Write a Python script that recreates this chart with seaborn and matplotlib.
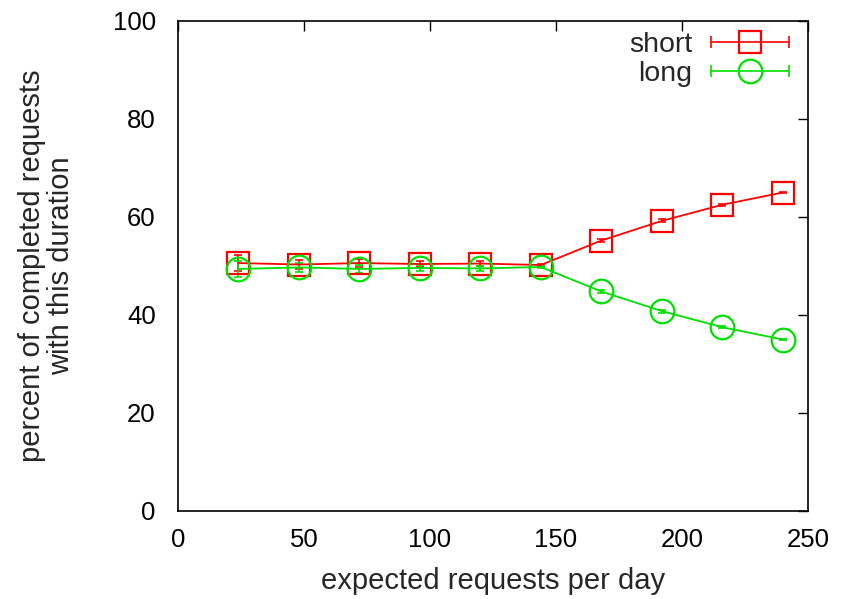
import matplotlib
matplotlib.use("Agg")
import matplotlib.pyplot as plt
import seaborn as sns
import pandas as pd
from matplotlib.lines import Line2D
from matplotlib.legend_handler import HandlerLine2D, HandlerTuple

requests = [24, 48, 72, 96, 120, 144, 168, 192, 216, 240]
short_pct = [50.6, 50.3, 50.6, 50.4, 50.5, 50.2, 55.2, 59.2, 62.5, 65.0]
short_err = [1.7, 1.0, 0.8, 0.7, 0.5, 0.3, 0.3, 0.3, 0.2, 0.2]
long_pct = [49.4, 49.7, 49.4, 49.6, 49.5, 49.8, 44.8, 40.8, 37.5, 35.0]
long_err = [1.7, 1.0, 0.8, 0.7, 0.5, 0.3, 0.3, 0.3, 0.2, 0.2]

sns.set_style("white")
plt.rcParams['font.family'] = ['Liberation Sans', 'DejaVu Sans']

df = pd.DataFrame({"x": requests, "short": short_pct, "long": long_pct})

fig = plt.figure(figsize=(8.55, 5.99), dpi=100)
ax = fig.add_axes([178/855, 1-511/599, (808-178)/855, (511-21)/599])

RED = "#ff0000"
GREEN = "#00e000"
TICK_FS = 18.5
LABEL_FS = 21
LEG_FS = 20.5

ax.errorbar(requests, short_pct, yerr=short_err, fmt='none', ecolor=RED,
            elinewidth=1.2, capsize=3, capthick=1.2, zorder=3)
ax.errorbar(requests, long_pct, yerr=long_err, fmt='none', ecolor=GREEN,
            elinewidth=1.2, capsize=3, capthick=1.2, zorder=3)

sns.lineplot(data=df, x="x", y="short", ax=ax, color=RED, marker='s',
             markersize=16.5, markerfacecolor='none', markeredgecolor=RED,
             markeredgewidth=1.6, linewidth=1.3, zorder=4)
sns.lineplot(data=df, x="x", y="long", ax=ax, color=GREEN, marker='o',
             markersize=17, markerfacecolor='none', markeredgecolor=GREEN,
             markeredgewidth=1.6, linewidth=1.3, zorder=4)

ax.set_xlim(0, 250)
ax.set_ylim(0, 100)
ax.set_xticks([0, 50, 100, 150, 200, 250])
ax.set_yticks([0, 20, 40, 60, 80, 100])
ax.tick_params(direction='in', length=7, width=1, top=True, right=True,
               labelsize=TICK_FS, colors='black')
ax.tick_params(axis='y', pad=16)
ax.tick_params(axis='x', pad=12)
for s in ax.spines.values():
    s.set_color('black')
    s.set_linewidth(1.2)

ax.set_xlabel("expected requests per day", fontsize=LABEL_FS, labelpad=11)
ax.set_ylabel("percent of completed requests\nwith this duration", fontsize=LABEL_FS,
              labelpad=27, linespacing=1.05)

# legend handles, gnuplot style: horizontal bar with caps and marker in the middle
caps_s = Line2D([], [], color=RED, marker='|', markersize=8, markeredgewidth=1.2, linewidth=1.2)
mark_s = Line2D([], [], linestyle='none', marker='s', markersize=16.5,
                markerfacecolor='none', markeredgecolor=RED, markeredgewidth=1.6)
caps_l = Line2D([], [], color=GREEN, marker='|', markersize=8, markeredgewidth=1.2, linewidth=1.2)
mark_l = Line2D([], [], linestyle='none', marker='o', markersize=17,
                markerfacecolor='none', markeredgecolor=GREEN, markeredgewidth=1.6)

hmap = {caps_s: HandlerLine2D(numpoints=2, marker_pad=0),
        caps_l: HandlerLine2D(numpoints=2, marker_pad=0),
        mark_s: HandlerLine2D(numpoints=1), mark_l: HandlerLine2D(numpoints=1)}
leg = ax.legend([(caps_s, mark_s), (caps_l, mark_l)], ["short", "long"],
                handler_map={tuple: HandlerTuple(ndivide=1, pad=0), **hmap},
                loc='upper right', bbox_to_anchor=(0.970, 0.978), frameon=False,
                markerfirst=False, fontsize=LEG_FS, handlelength=2.74,
                handletextpad=0.67, labelspacing=0.12, borderaxespad=0,
                borderpad=0)
for t in leg.get_texts():
    t.set_ha('right')

fig.savefig("out.png", dpi=100)
